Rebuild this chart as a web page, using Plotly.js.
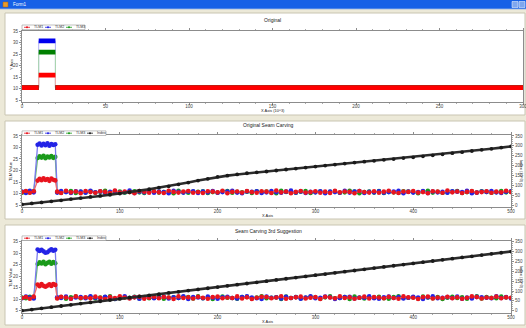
<!DOCTYPE html>
<html><head><meta charset="utf-8">
<script src="https://cdn.plot.ly/plotly-3.0.1.min.js"></script>
<style>html,body{margin:0;padding:0;background:#ECE9D8;overflow:hidden}#chart{width:526px;height:328px}</style>
</head><body><div id="chart"></div><script>
// ---------- Chart 1 "Original" (step segments) ----------
const origSegStart = [0, 10, 20];
const origSegEnd   = [10, 20, 300];
const origT1 = [10.4, 15.8, 10.4];
const origT2 = [10.4, 30.7, 10.4];
const origT3 = [10.4, 25.8, 10.4];

// ---------- Charts 2 & 3 shared x ----------
const seamX = [0,4,8,12,16,18,20,22,24,26,28,30,32,34,36,40,45,50,55,60,65,70,75,80,85,90,95,100,105,110,115,120,125,130,135,140,145,150,155,160,165,170,175,180,185,190,195,200,205,210,215,220,225,230,235,240,245,250,255,260,265,270,275,280,285,290,295,300,305,310,315,320,325,330,335,340,345,350,355,360,365,370,375,380,385,390,395,400,405,410,415,420,425,430,435,440,445,450,455,460,465,470,475,480,485,490,495,500];

// ---------- Chart 2 "Original Seam Carving" ----------
const seamT1 = [10.6,11.1,10.3,11.0, 15.6,16.4,15.8,16.6,15.9,16.3,15.5,16.5,16.0,15.7,
10.8,10.2,11.2,10.5,10.9,10.1,11.1,10.6,10.3,11.0,10.7,10.2,11.3,10.4,10.9,10.6,10.1,11.1,10.8,10.3,
11.0,10.5,10.2,11.2,10.7,10.4,10.9,11.1,10.3,10.6,10.2,11.0,10.8,10.5,11.2,10.1,10.7,10.9,10.4,11.1,
10.6,10.3,11.0,10.8,10.2,11.3,10.5,10.9,10.1,10.7,11.1,10.4,10.6,11.0,10.3,10.8,10.2,11.2,10.5,10.9,
10.7,10.1,11.1,10.6,10.4,11.0,10.3,10.8,11.2,10.5,10.2,10.9,10.7,11.1,10.4,10.6,10.1,11.0,10.8,10.3,
11.3,10.5,10.9,10.2,10.7,11.1,10.4,10.6,11.0,10.3,10.8,10.5,11.2,10.6];
const seamT2 = [10.9,10.2,11.2,10.5, 31.2,31.7,30.9,31.6,31.0,31.8,30.8,31.5,31.1,31.4,
10.4,11.1,10.6,10.2,11.0,10.8,10.3,11.2,10.5,10.9,10.1,10.7,11.1,10.4,10.6,11.3,10.2,10.8,10.5,11.0,
10.3,10.9,10.6,10.1,11.2,10.7,10.4,10.8,11.0,10.2,10.9,10.5,11.1,10.3,10.6,10.8,11.2,10.4,10.1,10.9,
10.7,11.0,10.2,10.5,11.1,10.6,10.3,10.8,11.3,10.4,10.9,10.2,10.7,10.5,11.0,10.1,10.8,10.6,10.3,11.2,
10.4,10.9,11.1,10.2,10.7,10.5,11.0,10.3,10.6,10.9,11.2,10.1,10.8,10.4,10.6,11.1,10.2,10.9,10.5,10.7,
10.3,11.0,10.8,10.6,11.2,10.1,10.4,10.9,10.7,11.1,10.5,10.2,10.8,11.0];
const seamT3 = [10.3,10.8,10.5,11.0, 25.4,26.2,25.6,26.4,25.3,26.1,25.7,26.3,25.5,25.9,
10.6,10.3,10.9,11.1,10.2,10.7,10.5,11.0,10.4,10.8,11.2,10.1,10.6,10.9,10.3,10.7,11.0,10.5,10.2,11.1,
10.8,10.4,10.6,10.9,10.1,11.2,10.5,10.3,10.8,10.7,11.0,10.2,10.6,10.4,10.9,11.1,10.3,10.7,10.5,10.8,
10.2,11.0,10.6,10.9,10.4,10.1,11.2,10.7,10.5,10.3,10.8,11.1,10.2,10.6,10.9,10.4,10.7,11.0,10.3,10.5,
11.2,10.8,10.1,10.6,10.9,10.4,11.1,10.2,10.7,10.5,10.3,11.0,10.8,10.6,10.1,10.9,11.2,10.4,10.7,10.3,
10.5,10.8,11.1,10.2,10.6,10.9,10.4,11.0,10.7,10.3,10.6,11.1,10.5,10.8];

// ---------- Chart 3 "Seam Carving 3rd Suggestion" ----------
const suggT1 = [10.5,10.9,10.2,11.1, 16.4,15.6,16.6,15.8,15.4,15.9,16.5,15.7,16.6,16.2,
10.3,11.0,10.7,10.2,11.2,10.5,10.8,10.4,11.1,10.6,10.1,10.9,10.5,11.3,10.7,10.3,10.8,11.0,10.2,10.6,
11.1,10.4,10.9,10.7,10.1,11.2,10.5,10.8,10.3,11.0,10.6,10.2,10.9,11.1,10.4,10.7,10.5,11.2,10.3,10.8,
10.1,10.6,11.0,10.9,10.4,10.7,11.3,10.2,10.5,10.8,11.1,10.3,10.6,10.9,10.1,11.0,10.7,10.4,11.2,10.5,
10.8,10.2,10.6,11.1,10.3,10.9,10.7,10.4,11.0,10.5,10.2,11.2,10.8,10.6,10.1,10.9,11.1,10.3,10.7,10.5,
11.0,10.4,10.8,10.2,10.6,11.2,10.9,10.3,10.7,10.5,11.1,10.4,10.8,10.6];
const suggT2 = [10.4,11.1,10.7,10.3, 31.6,31.0,31.5,30.8,30.2,30.4,31.2,31.7,31.1,31.5,
10.8,10.5,11.1,10.2,10.7,10.9,10.4,11.2,10.6,10.3,11.0,10.8,10.1,10.6,11.3,10.5,10.9,10.2,10.7,11.1,
10.4,10.6,11.0,10.3,10.8,10.5,11.2,10.1,10.9,10.7,10.4,11.1,10.6,10.2,10.8,11.0,10.5,10.3,10.9,11.2,
10.7,10.4,10.1,11.1,10.6,10.8,10.3,11.0,10.5,10.9,10.2,10.7,11.2,10.4,10.6,11.1,10.8,10.1,10.5,10.9,
11.0,10.3,10.7,10.6,11.2,10.4,10.2,10.8,11.1,10.5,10.9,10.3,10.6,11.0,10.7,10.1,10.8,11.2,10.4,10.6,
10.9,10.5,11.1,10.2,10.7,10.3,11.0,10.8,10.6,10.4,11.2,10.5,10.9,10.3];
const suggT3 = [10.7,10.4,11.0,10.6, 25.3,26.0,25.5,26.3,25.2,25.8,26.2,25.4,26.1,25.6,
10.5,10.9,10.2,10.8,11.1,10.4,10.6,11.0,10.3,10.7,10.9,11.2,10.1,10.5,10.8,10.6,11.0,10.3,10.9,10.4,
10.7,11.1,10.2,10.6,10.8,10.5,11.0,10.9,10.3,11.2,10.4,10.7,10.1,10.8,11.1,10.6,10.5,10.2,10.9,11.0,
10.3,10.7,11.2,10.4,10.6,10.8,10.1,11.1,10.5,10.9,10.3,10.6,11.0,10.7,10.2,10.8,11.2,10.4,10.5,10.9,
10.1,11.1,10.6,10.3,10.8,10.7,11.0,10.4,10.2,10.9,11.2,10.5,10.6,10.8,10.3,11.1,10.7,10.4,10.9,10.1,
10.6,11.0,10.5,10.8,10.2,10.7,11.2,10.3,10.9,10.6,10.4,11.1,10.7,10.5];

// ---------- Index series (right axis) ----------
const indexX = [0,10,20,30,40,50,60,70,80,90,100,110,120,130,140,150,160,170,180,190,200,210,220,230,240,250,260,270,280,290,300,310,320,330,340,350,360,370,380,390,400,410,420,430,440,450,460,470,480,490,500];
const seamIndex = [3,8,13,19,24,30,35,41,46,52,58,65,73,80,88,95,105,114,124,133,143,149,155,161,166,170,175,180,185,190,195,200,205,210,215,220,224,229,233,238,242,247,252,257,263,268,274,280,285,291,297];
const suggIndex = [0,6,12,18,24,30,36,42,48,54,60,66,72,78,84,90,96,102,108,114,120,126,132,138,144,150,156,162,168,174,180,186,192,198,204,210,216,222,228,234,240,246,252,258,264,270,276,282,288,294,300];

const seriesNames = ['TLM1','TLM2','TLM3','Index'];
const seriesColors = ['#e8141e','#2323e6','#1a9a1a','#222222'];
const thinColors = ['#ee6a72','#7a7aee','#6cbf6c','#555555'];

// ---------- helpers ----------
const W = 526, H = 328;
const PX = v => v / W, PY = v => 1 - v / H;
const FONT = 'Arial, "Liberation Sans", sans-serif';

function thickPath(s, e, v) {
  const x = [], y = [];
  s.forEach((a, i) => { x.push(a, e[i], null); y.push(v[i], v[i], null); });
  return {x, y};
}
function thinPath(s, e, v) {
  const x = [], y = [];
  s.forEach((a, i) => { x.push(a, e[i]); y.push(v[i], v[i]); });
  return {x, y};
}

const traces = [];
// Chart 1: thin connectors then thick levels (red last, on top)
[[origT2,1],[origT3,2],[origT1,0]].forEach(([v,c]) => {
  const p = thinPath(origSegStart, origSegEnd, v);
  traces.push({x:p.x, y:p.y, xaxis:'x', yaxis:'y', mode:'lines', line:{color:['#f4a8ac','#b0b0f4','#a8d8a8'][c], width:1}, hoverinfo:'skip', showlegend:false});
});
[[origT2,1],[origT3,2],[origT1,0]].forEach(([v,c]) => {
  const p = thickPath(origSegStart, origSegEnd, v);
  traces.push({x:p.x, y:p.y, xaxis:'x', yaxis:'y', mode:'lines', line:{color:['#ff0000','#0000ee','#008000'][c], width:4.8}, connectgaps:false, name:seriesNames[c], showlegend:false});
});

function seamTraces(T1, T2, T3, idx, xa, ya, ya2) {
  [[T3,2],[T2,1],[T1,0]].forEach(([v,c]) => {
    traces.push({x:seamX, y:v, xaxis:xa, yaxis:ya, mode:'lines+markers', name:seriesNames[c],
      line:{color:thinColors[c], width:1.3}, marker:{color:seriesColors[c], size:4.6, line:{width:0}}, showlegend:false});
  });
  traces.push({x:indexX, y:idx, xaxis:xa, yaxis:ya2, mode:'lines+markers', name:'Index',
    line:{color:'#2c2c2c', width:2.6}, marker:{color:'#1a1a1a', size:3.8}, showlegend:false});
}
seamTraces(seamT1, seamT2, seamT3, seamIndex, 'x2', 'y2', 'y3');
seamTraces(suggT1, suggT2, suggT3, suggIndex, 'x3', 'y4', 'y5');

const tf = {family:FONT, size:4.5, color:'#444'};
const base = {showgrid:false, zeroline:false, showline:true, linecolor:'#8c8c8c', linewidth:1,
  ticks:'outside', ticklen:2, tickcolor:'#8c8c8c', tickfont:tf, fixedrange:true};
const mn = d => ({ticks:'outside', ticklen:1.2, tickcolor:'#aaa', dtick:d, tick0:0});

const layout = {
  width:W, height:H, margin:{l:0,r:0,t:0,b:0},
  paper_bgcolor:'#ECE9D8', plot_bgcolor:'#ffffff', showlegend:false,
  xaxis: Object.assign({}, base, {domain:[PX(22),PX(523)], anchor:'y', range:[0,300], dtick:50, tick0:0, minor:mn(10), mirror:'ticks', ticklabelstandoff:-2, ticklabeloverflow:'allow'}),
  yaxis: Object.assign({}, base, {domain:[PY(101.5),PY(31)], anchor:'x', range:[4.35,35], dtick:5, tick0:0, minor:mn(1), mirror:true}),
  xaxis2: Object.assign({}, base, {domain:[PX(22),PX(511)], anchor:'y2', range:[0,500], dtick:100, tick0:0, minor:mn(20), mirror:'ticks', ticklabelstandoff:-2}),
  yaxis2: Object.assign({}, base, {domain:[PY(207),PY(135)], anchor:'x2', range:[4.13,35.43], dtick:5, tick0:0, minor:mn(1), mirror:true}),
  yaxis3: Object.assign({}, base, {overlaying:'y2', side:'right', anchor:'x2', range:[-10,355], dtick:50, tick0:0, minor:mn(10)}),
  xaxis3: Object.assign({}, base, {domain:[PX(22),PX(511)], anchor:'y4', range:[0,500], dtick:100, tick0:0, minor:mn(20), mirror:'ticks', ticklabelstandoff:-2}),
  yaxis4: Object.assign({}, base, {domain:[PY(312.5),PY(241)], anchor:'x3', range:[4.2,35.3], dtick:5, tick0:0, minor:mn(1), mirror:true}),
  yaxis5: Object.assign({}, base, {overlaying:'y4', side:'right', anchor:'x3', range:[-9,353.5], dtick:50, tick0:0, minor:mn(10)}),
  shapes: [], annotations: []
};

function rect(x0,y0,x1,y1,fill,line,lw){ layout.shapes.push({type:'rect', xref:'paper', yref:'paper', x0:PX(x0), x1:PX(x1), y0:PY(y1), y1:PY(y0), fillcolor:fill, line:{color:line||fill, width:lw===undefined?0:lw}, layer:'below'}); }
function lineS(x0,y0,x1,y1,color,w){ layout.shapes.push({type:'line', xref:'paper', yref:'paper', x0:PX(x0), x1:PX(x1), y0:PY(y0), y1:PY(y1), line:{color:color, width:w}}); }
function circ(cx,cy,r,color){ layout.shapes.push({type:'circle', xref:'paper', yref:'paper', x0:PX(cx-r), x1:PX(cx+r), y0:PY(cy+r), y1:PY(cy-r), fillcolor:color, line:{color:color, width:0}}); }
function ann(text,x,y,size,opt){ layout.annotations.push(Object.assign({text:text, xref:'paper', yref:'paper', x:PX(x), y:PY(y), showarrow:false, font:{family:FONT, size:size, color:'#222'}, xanchor:'center', yanchor:'middle'}, opt||{})); }

// window chrome
rect(0,0,526,9,'#1660E6');
rect(0,8.3,526,9.3,'#5C8FE8');
rect(3,2,8,7,'#E89B2C','#A86010',0.5);
ann('Form1',11,4.6,4.5,{xanchor:'left', font:{family:FONT, size:4.5, color:'#ffffff'}});
rect(512,1.5,518,7.5,'#7FA7EE','#ffffff',0.5);
rect(519,1.5,525,7.5,'#7FA7EE','#ffffff',0.5);
// panels
rect(5,13,525,115,'#ffffff','#C9C5B2',1);
rect(5,121,525,219,'#ffffff','#C9C5B2',1);
rect(5,225,525,325,'#ffffff','#C9C5B2',1);

// titles
ann('Original',272,20,5,{font:{family:FONT, size:5, color:'#222'}});
ann('X Axis (10^3)',273,110.5,4,{});
ann('Y Axis',11,65,4,{textangle:-90});
ann('Original Seam Carving',268,125.5,5,{font:{family:FONT, size:5, color:'#222'}});
ann('X Axis',267,215.5,4,{});
ann('TLM Value',10,171,4,{textangle:-90});
ann('Index (10^3)',522,171,4,{textangle:90});
ann('Seam Carving 3rd Suggestion',268,231,5,{font:{family:FONT, size:5, color:'#222'}});
ann('X Axis',267,321.5,4,{});
ann('TLM Value',10,277,4,{textangle:-90});
ann('Index (10^3)',522,277,4,{textangle:90});

// custom compact legends
function legend(yc, n, x1){
  layout.shapes.push({type:'rect', xref:'paper', yref:'paper', x0:PX(22), x1:PX(x1), y0:PY(yc+2.3), y1:PY(yc-2.3), fillcolor:'#ffffff', line:{color:'#999', width:0.6}});
  for (let i=0;i<n;i++){
    const sx = 24 + i*21;
    lineS(sx, yc, sx+6, yc, seriesColors[i], 0.8);
    circ(sx+3, yc, 1, seriesColors[i]);
    ann(seriesNames[i], sx+7.5, yc, 3.6, {xanchor:'left', font:{family:FONT, size:3.6, color:'#333'}});
  }
}
legend(27.3, 3, 85);
legend(133.2, 4, 106);
legend(238.2, 4, 106);

Plotly.newPlot('chart', traces, layout, {staticPlot:true, displayModeBar:false});
</script></body></html>
